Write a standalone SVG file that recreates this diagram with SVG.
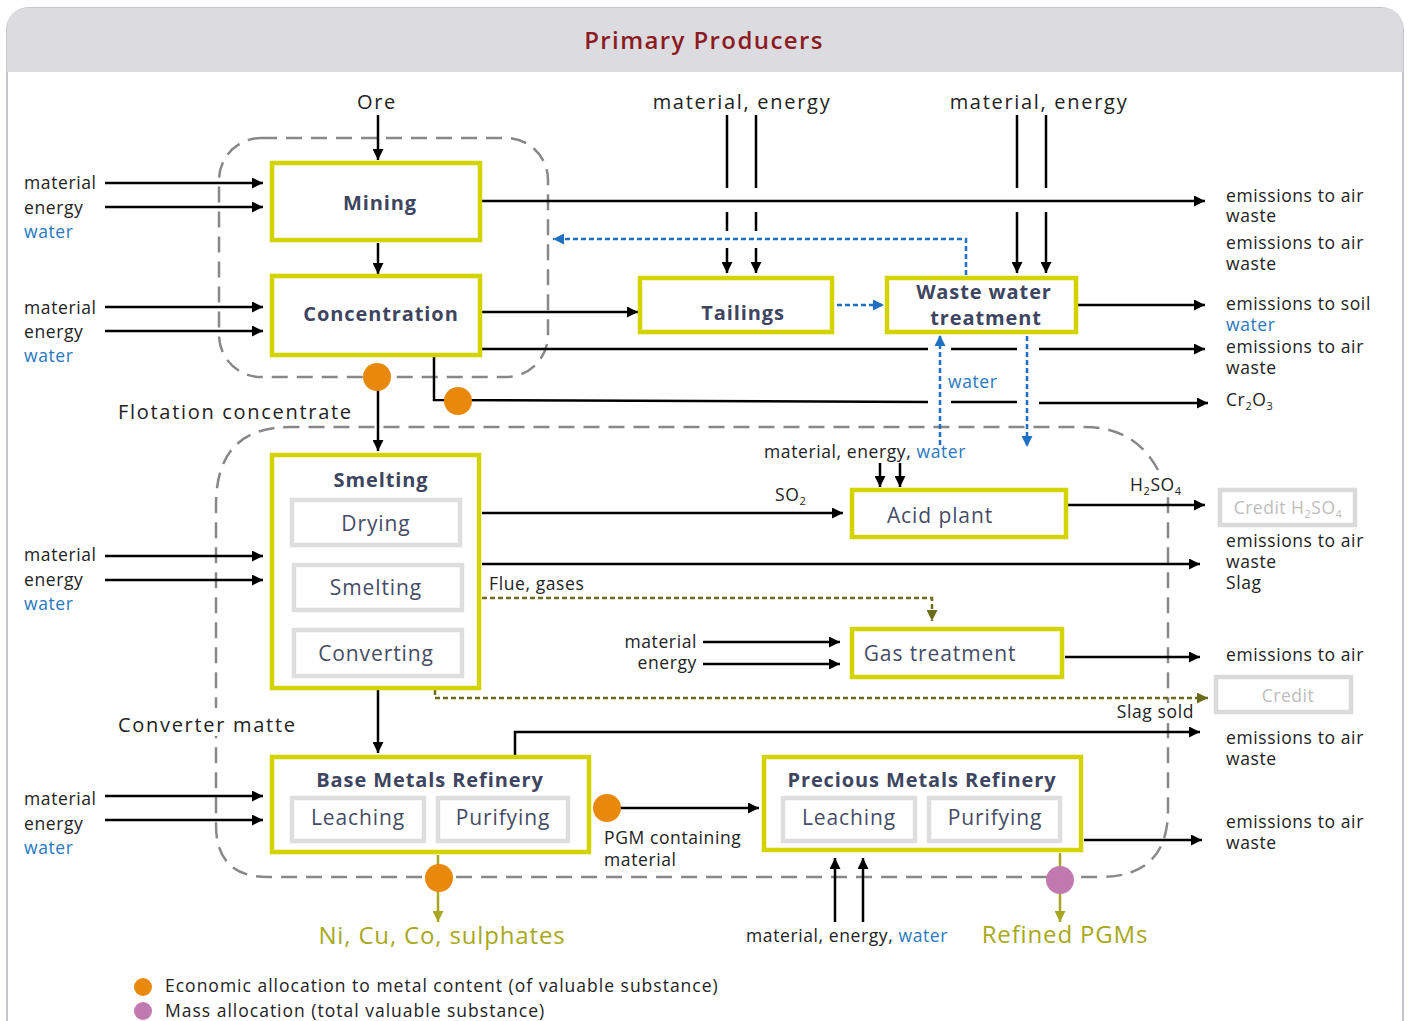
<svg xmlns="http://www.w3.org/2000/svg" width="1409" height="1021" viewBox="0 0 1409 1021">
<defs>
<style>
.lbl{font-family:"Open Sans","Liberation Sans",sans-serif;font-size:17.5px;fill:#222;letter-spacing:0.6px}
.leg{letter-spacing:1px}
.big{font-family:"Open Sans","Liberation Sans",sans-serif;font-size:20px;fill:#222;letter-spacing:1.7px}
.blue{fill:#2a78c0}
.nb{font-family:"Open Sans","Liberation Sans",sans-serif;font-size:20px;font-weight:700;fill:#3d4560;letter-spacing:0.9px;text-anchor:middle}
.nr{font-family:"Open Sans","Liberation Sans",sans-serif;font-size:21px;fill:#454c66;letter-spacing:0.9px;text-anchor:middle}
.box{fill:#fff;stroke:#d3d300;stroke-width:4.5}
.sub{fill:#fff;stroke:#dedede;stroke-width:4.5}
.cred{fill:#fff;stroke:#dadada;stroke-width:4.5}
.credt{font-family:"Open Sans","Liberation Sans",sans-serif;font-size:17.5px;fill:#bdbdbd;text-anchor:middle;letter-spacing:0.5px}
.ln{fill:none;stroke:#000;stroke-width:2.5}
.la{fill:none;stroke:#000;stroke-width:2.5;marker-end:url(#ah)}
.bd{fill:none;stroke:#1f70c0;stroke-width:2.5;stroke-dasharray:5 3;marker-end:url(#ab)}
.od{fill:none;stroke:#6b6b1c;stroke-width:2.5;stroke-dasharray:5 3;marker-end:url(#ao)}
.oy{fill:none;stroke:#a6a620;stroke-width:2.5;marker-end:url(#ay)}
.grp{fill:none;stroke:#888;stroke-width:2.5;stroke-dasharray:16 9}
.prod{font-family:"Open Sans","Liberation Sans",sans-serif;font-size:24px;fill:#a8a820;text-anchor:middle;letter-spacing:0.85px}
</style>
<marker id="ah" viewBox="0 0 10 10" refX="10" refY="5" markerWidth="11" markerHeight="11" markerUnits="userSpaceOnUse" orient="auto"><path d="M0,0 L10,5 L0,10 z" fill="#000"/></marker>
<marker id="ab" viewBox="0 0 10 10" refX="10" refY="5" markerWidth="11" markerHeight="11" markerUnits="userSpaceOnUse" orient="auto"><path d="M0,0 L10,5 L0,10 z" fill="#1f70c0"/></marker>
<marker id="ao" viewBox="0 0 10 10" refX="10" refY="5" markerWidth="11" markerHeight="11" markerUnits="userSpaceOnUse" orient="auto"><path d="M0,0 L10,5 L0,10 z" fill="#6b6b1c"/></marker>
<marker id="ay" viewBox="0 0 10 10" refX="10" refY="5" markerWidth="11" markerHeight="11" markerUnits="userSpaceOnUse" orient="auto"><path d="M0,0 L10,5 L0,10 z" fill="#a6a620"/></marker>
</defs>

<!-- frame -->
<g id="frame">
<rect x="7" y="8" width="1396" height="1040" rx="22" fill="#fff" stroke="#c4c4cc" stroke-width="2"/>
<path d="M7,72 L7,30 Q7,8 29,8 L1381,8 Q1403,8 1403,30 L1403,72 Z" fill="#dcdce0"/>
<text x="704" y="49" text-anchor="middle" font-family="'Open Sans','Liberation Sans',sans-serif" font-size="24" font-weight="600" fill="#8b1a22" letter-spacing="1.4">Primary Producers</text>
</g>

<!-- groups -->
<g id="groups">
<rect class="grp" x="219" y="138" width="329" height="239" rx="42"/>
<path class="grp" d="M1158,470 Q1135,427 1085,427 L290,427 Q216,427 216,505 L216,825 Q216,877 268,877 L1100,877 Q1168,877 1168,810 L1168,497"/>
</g>

<!-- connectors -->
<g id="connectors">
<line class="la" x1="378" y1="115" x2="378" y2="160"/>
<line class="la" x1="378" y1="243" x2="378" y2="274"/>
<!-- left inputs -->
<line class="la" x1="105" y1="183" x2="263" y2="183"/>
<line class="la" x1="105" y1="207" x2="263" y2="207"/>
<line class="la" x1="105" y1="307" x2="263" y2="307"/>
<line class="la" x1="105" y1="331" x2="263" y2="331"/>
<line class="la" x1="105" y1="556" x2="263" y2="556"/>
<line class="la" x1="105" y1="580" x2="263" y2="580"/>
<line class="la" x1="105" y1="796" x2="263" y2="796"/>
<line class="la" x1="105" y1="820" x2="263" y2="820"/>
<!-- top inputs -->
<line class="ln" x1="727" y1="115" x2="727" y2="188"/>
<line class="ln" x1="756" y1="115" x2="756" y2="188"/>
<line class="ln" x1="727" y1="212" x2="727" y2="231"/>
<line class="ln" x1="756" y1="212" x2="756" y2="231"/>
<line class="la" x1="727" y1="248" x2="727" y2="273"/>
<line class="la" x1="756" y1="248" x2="756" y2="273"/>
<line class="ln" x1="1017" y1="115" x2="1017" y2="188"/>
<line class="ln" x1="1046" y1="115" x2="1046" y2="188"/>
<line class="la" x1="1017" y1="212" x2="1017" y2="273"/>
<line class="la" x1="1046" y1="212" x2="1046" y2="273"/>
<!-- mining out -->
<line class="la" x1="482" y1="201" x2="1205" y2="201"/>
<!-- blue return -->
<path class="bd" d="M966,275 L966,239 L553,239"/>
<line class="la" x1="482" y1="312" x2="638" y2="312"/>
<line class="bd" x1="837" y1="305" x2="884" y2="305"/>
<line class="la" x1="1078" y1="305" x2="1205" y2="305"/>
<!-- concentration out with gaps -->
<line class="ln" x1="482" y1="349" x2="928" y2="349"/>
<line class="ln" x1="951" y1="349" x2="1017" y2="349"/>
<line class="la" x1="1039" y1="349" x2="1205" y2="349"/>
<path class="ln" d="M434,357 L434,400 L928,402"/>
<line class="ln" x1="951" y1="402" x2="1017" y2="402"/>
<line class="la" x1="1039" y1="403" x2="1208" y2="403"/>
<!-- water dashed verticals -->
<line class="bd" x1="940" y1="445" x2="940" y2="335"/>
<line class="bd" x1="1027" y1="336" x2="1027" y2="447"/>
<!-- flotation -->
<line class="la" x1="378" y1="390" x2="378" y2="451"/>
<!-- acid plant -->
<line class="la" x1="880" y1="463" x2="880" y2="487"/>
<line class="la" x1="900" y1="463" x2="900" y2="487"/>
<line class="la" x1="482" y1="513" x2="843" y2="513"/>
<line class="la" x1="1068" y1="505" x2="1205" y2="505"/>
<line class="la" x1="482" y1="564" x2="1200" y2="564"/>
<path class="od" d="M482,598 L932,598 L932,621"/>
<line class="la" x1="703" y1="642" x2="840" y2="642"/>
<line class="la" x1="703" y1="664" x2="840" y2="664"/>
<line class="la" x1="1065" y1="657" x2="1200" y2="657"/>
<path class="od" d="M435,690 L435,698 L1208,698"/>
<!-- to BMR -->
<line class="la" x1="378" y1="690" x2="378" y2="753"/>
<path class="la" d="M515,755 L515,732 L1200,732"/>
<line class="la" x1="620" y1="808" x2="759" y2="808"/>
<line class="la" x1="1084" y1="840" x2="1202" y2="840"/>
<line class="oy" x1="438" y1="855" x2="438" y2="922"/>
<line class="oy" x1="1060" y1="853" x2="1060" y2="922"/>
<line class="la" x1="835" y1="922" x2="835" y2="858"/>
<line class="la" x1="863" y1="922" x2="863" y2="858"/>
<!-- allocation markers -->
<circle cx="377" cy="377" r="14" fill="#e8890c"/>
<circle cx="458" cy="401" r="14" fill="#e8890c"/>
<circle cx="607" cy="808" r="14" fill="#e8890c"/>
<circle cx="439" cy="878" r="14" fill="#e8890c"/>
<circle cx="1060" cy="880" r="14" fill="#c07ab0"/>
</g>

<!-- nodes -->
<g id="mining"><rect class="box" x="272" y="163" width="208" height="77"/><text class="nb" x="380" y="210">Mining</text></g>
<g id="concentration"><rect class="box" x="272" y="276" width="208" height="79"/><text class="nb" x="381" y="321">Concentration</text></g>
<g id="tailings"><rect class="box" x="640" y="278" width="192" height="54"/><text class="nb" x="743" y="320">Tailings</text></g>
<g id="wwt"><rect class="box" x="887" y="278" width="189" height="54"/><text class="nb" x="984" y="299">Waste water</text><text class="nb" x="986" y="325">treatment</text></g>
<g id="smelting"><rect class="box" x="272" y="455" width="207" height="233"/><text class="nb" x="381" y="487">Smelting</text>
<rect class="sub" x="292" y="500" width="168" height="45"/><text class="nr" x="376" y="531">Drying</text>
<rect class="sub" x="294" y="565" width="168" height="45"/><text class="nr" x="376" y="595">Smelting</text>
<rect class="sub" x="294" y="630" width="168" height="46"/><text class="nr" x="376" y="661">Converting</text></g>
<g id="acid-plant"><rect class="box" x="852" y="490" width="214" height="47"/><text class="nr" x="940" y="523">Acid plant</text></g>
<g id="gas-treatment"><rect class="box" x="852" y="629" width="210" height="48"/><text class="nr" x="940" y="661">Gas treatment</text></g>
<g id="bmr"><rect class="box" x="272" y="757" width="317" height="95"/><text class="nb" x="430" y="787">Base Metals Refinery</text>
<rect class="sub" x="292" y="798" width="132" height="43"/><text class="nr" x="358" y="825">Leaching</text>
<rect class="sub" x="438" y="798" width="130" height="43"/><text class="nr" x="503" y="825">Purifying</text></g>
<g id="pmr"><rect class="box" x="764" y="757" width="317" height="93"/><text class="nb" x="922" y="787">Precious Metals Refinery</text>
<rect class="sub" x="783" y="798" width="132" height="43"/><text class="nr" x="849" y="825">Leaching</text>
<rect class="sub" x="929" y="798" width="131" height="43"/><text class="nr" x="995" y="825">Purifying</text></g>
<g id="credit-h2so4"><rect class="cred" x="1220" y="490" width="135" height="35"/><text class="credt" x="1288" y="514">Credit H<tspan font-size="11" dy="4">2</tspan><tspan dy="-4">SO</tspan><tspan font-size="11" dy="4">4</tspan></text></g>
<g id="credit"><rect class="cred" x="1216" y="677" width="135" height="35"/><text class="credt" x="1288" y="702">Credit</text></g>

<!-- labels -->
<g id="labels">
<rect x="205" y="708" width="24" height="28" fill="#fff"/>
<rect x="1160" y="703" width="16" height="20" fill="#fff"/>
<text class="big" x="377" y="109" text-anchor="middle">Ore</text>
<text class="big" x="742" y="109" text-anchor="middle">material, energy</text>
<text class="big" x="1039" y="109" text-anchor="middle">material, energy</text>
<text class="lbl" x="24" y="189">material</text><text class="lbl" x="24" y="214">energy</text><text class="lbl blue" x="24" y="238">water</text>
<text class="lbl" x="24" y="314">material</text><text class="lbl" x="24" y="338">energy</text><text class="lbl blue" x="24" y="362">water</text>
<text class="lbl" x="24" y="561">material</text><text class="lbl" x="24" y="586">energy</text><text class="lbl blue" x="24" y="610">water</text>
<text class="lbl" x="24" y="805">material</text><text class="lbl" x="24" y="830">energy</text><text class="lbl blue" x="24" y="854">water</text>
<text class="lbl" x="1226" y="202">emissions to air</text><text class="lbl" x="1226" y="222">waste</text>
<text class="lbl" x="1226" y="249">emissions to air</text><text class="lbl" x="1226" y="270">waste</text>
<text class="lbl" x="1226" y="310">emissions to soil</text><text class="lbl blue" x="1226" y="331">water</text>
<text class="lbl" x="1226" y="353">emissions to air</text><text class="lbl" x="1226" y="374">waste</text>
<text class="lbl" x="1226" y="406">Cr<tspan font-size="11" dy="4">2</tspan><tspan dy="-4">O</tspan><tspan font-size="11" dy="4">3</tspan></text>
<text class="lbl" x="1226" y="547">emissions to air</text><text class="lbl" x="1226" y="568">waste</text><text class="lbl" x="1226" y="589">Slag</text>
<text class="lbl" x="1226" y="661">emissions to air</text>
<text class="lbl" x="1226" y="744">emissions to air</text><text class="lbl" x="1226" y="765">waste</text>
<text class="lbl" x="1226" y="828">emissions to air</text><text class="lbl" x="1226" y="849">waste</text>
<text class="big" x="118" y="419">Flotation concentrate</text>
<text class="big" x="118" y="732">Converter matte</text>
<text class="lbl blue" x="948" y="388">water</text>
<text class="lbl" x="764" y="458">material, energy, <tspan class="blue">water</tspan></text>
<text class="lbl" x="775" y="501">SO<tspan font-size="11" dy="4">2</tspan></text>
<text class="lbl" x="1130" y="491">H<tspan font-size="11" dy="4">2</tspan><tspan dy="-4">SO</tspan><tspan font-size="11" dy="4">4</tspan></text>
<text class="lbl" x="489" y="590">Flue, gases</text>
<text class="lbl" x="697" y="648" text-anchor="end">material</text>
<text class="lbl" x="697" y="669" text-anchor="end">energy</text>
<text class="lbl" x="1194" y="718" text-anchor="end">Slag sold</text>
<text class="lbl" x="604" y="844">PGM containing</text><text class="lbl" x="604" y="866">material</text>
<text class="lbl" x="746" y="942">material, energy, <tspan class="blue">water</tspan></text>
<text class="prod" x="442" y="944">Ni, Cu, Co, sulphates</text>
<text class="prod" x="1065" y="943">Refined PGMs</text>
</g>

<!-- legend -->
<g id="legend">
<circle cx="143" cy="987" r="9" fill="#e8890c"/>
<text class="lbl leg" x="165" y="992">Economic allocation to metal content (of valuable substance)</text>
<circle cx="143" cy="1011" r="9" fill="#c07ab0"/>
<text class="lbl leg" x="165" y="1017">Mass allocation (total valuable substance)</text>
</g>
</svg>
